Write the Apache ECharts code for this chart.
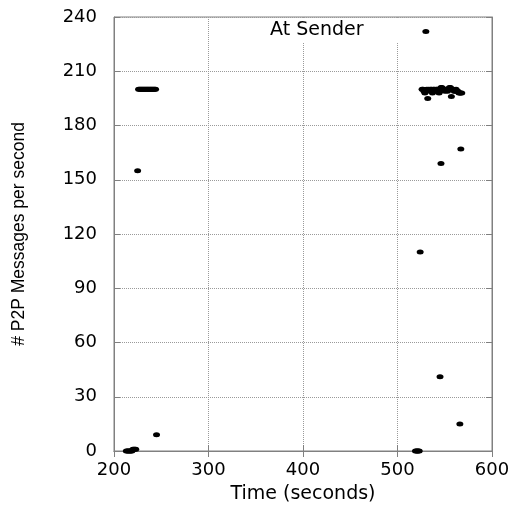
<!DOCTYPE html>
<html>
<head>
<meta charset="utf-8">
<script src="https://cdn.jsdelivr.net/npm/echarts@6/dist/echarts.min.js"></script>
<style>
  html, body { margin: 0; padding: 0; background: #fff; }
  #chart { width: 516px; height: 509px; }
</style>
</head>
<body>
<div id="chart"></div>
<script>
// 时间 (秒)
const times = [
  213, 214, 215, 216, 217, 218, 219, 220, 221, 222, 223,
  225, 226, 227, 228, 229, 230, 231, 232, 233, 234, 235, 236, 237, 238, 239, 240, 241, 242, 243, 244,
  245,
  519, 520, 521, 522, 523,
  524, 530, 545, 546, 566, 567,
  526, 527, 528, 529, 531, 532, 533, 534, 535, 536, 537, 538, 539, 540, 541, 542, 543, 544, 545,
  546, 547, 548, 549, 550, 551, 552, 553, 554, 555, 556, 557, 558, 559, 560, 561, 562, 563, 564,
  565, 566, 567, 568
];
// 每秒消息数
const counts = [
  0, 0, 0, 0, 0, 0, 0, 1, 1, 1, 1,
  155, 200, 200, 200, 200, 200, 200, 200, 200, 200, 200, 200, 200, 200, 200, 200, 200, 200, 200, 200,
  9,
  0, 0, 0, 0, 0,
  110, 232, 41, 159, 15, 167,
  200, 200, 199, 198, 200, 195, 200, 199, 200, 200, 198, 200, 200, 199, 200, 200, 199, 198, 200,
  201, 201, 200, 200, 199, 200, 200, 199, 200, 201, 201, 196, 200, 200, 199, 199, 200, 199, 199,
  198, 198, 198, 198
];
const xTicks = [200, 600, 100];
const yTicks = [0, 240, 30];

const chart = echarts.init(document.getElementById("chart"));
const points = times.map((t, i) => [t, counts[i]]);

const frame = "#808080";
const grid = "#9a9a9a";

chart.setOption({
  animation: false,
  backgroundColor: "#fff",
  title: {
    text: "At Sender",
    left: 250,
    top: 18,
    padding: [3, 36, 3, 20],
    backgroundColor: "#fff",
    textStyle: {
      fontFamily: "DejaVu Sans",
      fontSize: 19,
      fontWeight: "normal",
      color: "#000"
    }
  },
  grid: {
    left: 114,
    right: 24,
    top: 17,
    bottom: 57,
    show: true,
    borderColor: frame,
    borderWidth: 1
  },
  xAxis: [
    {
      type: "value",
      min: xTicks[0],
      max: xTicks[1],
      interval: xTicks[2],
      name: "Time (seconds)",
      nameLocation: "middle",
      nameGap: 34,
      nameTextStyle: {
        fontFamily: "DejaVu Sans",
        fontSize: 19,
        color: "#000"
      },
      axisLine: { show: true, lineStyle: { color: frame } },
      axisTick: { show: true, inside: true, length: 6, lineStyle: { color: frame } },
      axisLabel: {
        margin: 10,
        fontFamily: "DejaVu Sans",
        fontSize: 18,
        color: "#000"
      },
      splitLine: { show: true, lineStyle: { color: grid, type: "dotted" } }
    },
    {
      type: "value",
      position: "top",
      min: xTicks[0],
      max: xTicks[1],
      interval: xTicks[2],
      axisLine: { show: true, lineStyle: { color: frame } },
      axisTick: { show: true, inside: true, length: 6, lineStyle: { color: frame } },
      axisLabel: { show: false },
      splitLine: { show: false }
    }
  ],
  yAxis: [
    {
      type: "value",
      min: yTicks[0],
      max: yTicks[1],
      interval: yTicks[2],
      name: "# P2P Messages per second",
      nameLocation: "middle",
      nameGap: 86,
      nameTextStyle: {
        fontFamily: "Liberation Sans",
        fontSize: 17.5,
        color: "#000"
      },
      axisLine: { show: true, lineStyle: { color: frame } },
      axisTick: { show: true, inside: true, length: 6, lineStyle: { color: frame } },
      axisLabel: {
        margin: 17,
        fontFamily: "DejaVu Sans",
        fontSize: 18,
        color: "#000"
      },
      splitLine: { show: true, lineStyle: { color: grid, type: "dotted" } }
    },
    {
      type: "value",
      position: "right",
      min: yTicks[0],
      max: yTicks[1],
      interval: yTicks[2],
      axisLine: { show: true, lineStyle: { color: frame } },
      axisTick: { show: true, inside: true, length: 6, lineStyle: { color: frame } },
      axisLabel: { show: false },
      splitLine: { show: false }
    }
  ],
  series: [
    {
      name: "At Sender",
      type: "scatter",
      data: points,
      symbol: "circle",
      symbolSize: [7, 5],
      itemStyle: { color: "#000", opacity: 1 },
      z: 3
    }
  ]
});
</script>
</body>
</html>
